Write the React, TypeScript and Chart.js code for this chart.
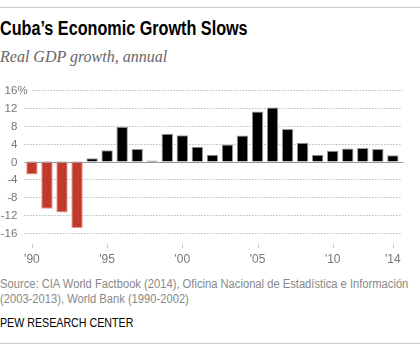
import React, { useEffect, useRef } from "react";
import { Chart, registerables } from "chart.js";

Chart.register(...registerables);

const years = [1990,1991,1992,1993,1994,1995,1996,1997,1998,1999,2000,2001,2002,2003,2004,2005,2006,2007,2008,2009,2010,2011,2012,2013,2014];
const gdpGrowth = [-2.9,-10.6,-11.4,-14.9,0.7,2.5,7.8,2.8,0.2,6.2,5.9,3.3,1.5,3.8,5.8,11.2,12.1,7.3,4.2,1.5,2.4,2.9,3.0,2.8,1.4];
const tickYears = [1990,1995,2000,2005,2010,2014];
const tickLabels = ["'90","'95","'00","'05","'10","'14"];
const yMin = -16;
const yMax = 16;
const yStep = 4;

const SANS = '"Liberation Sans", Arial, sans-serif';

const pewAxes = {
  id: "pewAxes",
  beforeDatasetsDraw(chart: any) {
    const { ctx, chartArea, scales } = chart;
    const x = scales.x;
    const y = scales.y;
    const labelRight = chartArea.left - 7;
    ctx.save();
    ctx.font = "11.5px " + SANS;
    ctx.fillStyle = "#777";
    ctx.textBaseline = "middle";
    y.ticks.forEach((t: any) => {
      const py = Math.round(y.getPixelForValue(t.value)) + 0.5;
      ctx.textAlign = "right";
      ctx.fillText(String(t.value), labelRight, py);
      let startX = chartArea.left;
      if (t.value === yMax) {
        ctx.textAlign = "left";
        ctx.fillText("%", labelRight, py);
        startX = labelRight + ctx.measureText("%").width + 5;
      }
      if (t.value !== 0) {
        ctx.beginPath();
        ctx.setLineDash([1, 2]);
        ctx.strokeStyle = "#999";
        ctx.lineWidth = 1;
        ctx.moveTo(startX, py);
        ctx.lineTo(chartArea.right + 2, py);
        ctx.stroke();
      }
    });
    ctx.setLineDash([]);
    ctx.strokeStyle = "#ccc";
    tickYears.forEach((yr) => {
      const idx = years.indexOf(yr);
      const px = Math.round(x.getPixelForValue(idx)) + 0.5;
      ctx.beginPath();
      ctx.moveTo(px, chartArea.bottom + 11);
      ctx.lineTo(px, chartArea.bottom + 15);
      ctx.stroke();
    });
    ctx.restore();
  },
  afterDatasetsDraw(chart: any) {
    const { ctx, chartArea, scales } = chart;
    const py = Math.round(scales.y.getPixelForValue(0)) + 0.5;
    ctx.save();
    ctx.strokeStyle = "#999";
    ctx.lineWidth = 1;
    ctx.beginPath();
    ctx.moveTo(chartArea.left, py);
    ctx.lineTo(chartArea.right + 3, py);
    ctx.stroke();
    ctx.restore();
  },
};

const squeeze = (k: number): React.CSSProperties => ({
  display: "inline-block",
  transform: `scaleX(${k})`,
  transformOrigin: "0 0",
});

export default function App() {
  const ref = useRef<HTMLCanvasElement>(null);
  useEffect(() => {
    if (!ref.current) return;
    const chart = new Chart(ref.current, {
      type: "bar",
      data: {
        labels: years.map(String),
        datasets: [
          {
            data: gdpGrowth,
            backgroundColor: gdpGrowth.map((v) => (v < 0 ? "#c0392b" : "#000000")),
            borderColor: gdpGrowth.map((v) => (v < 0 ? "#e49a8c" : "#999999")),
            borderWidth: 1,
            categoryPercentage: 1,
            barPercentage: 0.76,
          },
        ],
      },
      options: {
        animation: false,
        responsive: false,
        maintainAspectRatio: false,
        layout: { padding: { left: 24.4, right: 15.4, top: 10, bottom: 0 } },
        plugins: { legend: { display: false }, tooltip: { enabled: false } },
        scales: {
          x: {
            grid: { display: false, drawTicks: false },
            border: { display: false },
            ticks: {
              autoSkip: false,
              maxRotation: 0,
              padding: 19,
              color: "#777",
              font: { family: SANS, size: 12 },
              callback: (_v: any, i: number) => {
                const k = tickYears.indexOf(years[i]);
                return k >= 0 ? tickLabels[k] : "";
              },
            },
            afterFit: (s: any) => {
              s.height = 37;
            },
          },
          y: {
            display: false,
            min: yMin,
            max: yMax,
            ticks: { stepSize: yStep },
          },
        },
      },
      plugins: [pewAxes],
    });
    return () => chart.destroy();
  }, []);

  return (
    <div style={{ position: "fixed", left: 0, top: 0, width: 420, height: 350, background: "#fff", overflow: "hidden" }}>
      <div style={{ position: "absolute", left: 0, top: 7, width: 420, height: 1, background: "#ccc" }} />
      <div style={{ position: "absolute", left: 0, top: 16, fontFamily: SANS, fontWeight: 700, fontSize: 19.5, lineHeight: "24px", color: "#000", whiteSpace: "nowrap" }}>
        <span style={squeeze(0.83)}>Cuba’s Economic Growth Slows</span>
      </div>
      <div style={{ position: "absolute", left: 0, top: 47, fontFamily: '"Liberation Serif", serif', fontStyle: "italic", fontSize: 16, lineHeight: "20px", color: "#666", whiteSpace: "nowrap" }}>
        Real GDP growth, annual
      </div>
      <canvas ref={ref} width={420} height={190} style={{ position: "absolute", left: 0, top: 80, width: 420, height: 190 }} />
      <div style={{ position: "absolute", left: 0, top: 277, fontFamily: SANS, fontSize: 12.5, lineHeight: "15px", color: "#888", whiteSpace: "nowrap" }}>
        <span style={squeeze(0.895)}>
          Source: CIA World Factbook (2014), Oficina Nacional de Estadística e Información
          <br />
          (2003-2013), World Bank (1990-2002)
        </span>
      </div>
      <div style={{ position: "absolute", left: 0, top: 315, fontFamily: SANS, fontSize: 13.5, lineHeight: "16px", color: "#000", whiteSpace: "nowrap" }}>
        <span style={squeeze(0.79)}>PEW RESEARCH CENTER</span>
      </div>
      <div style={{ position: "absolute", left: 0, top: 343, width: 420, height: 1, background: "#ccc" }} />
    </div>
  );
}
